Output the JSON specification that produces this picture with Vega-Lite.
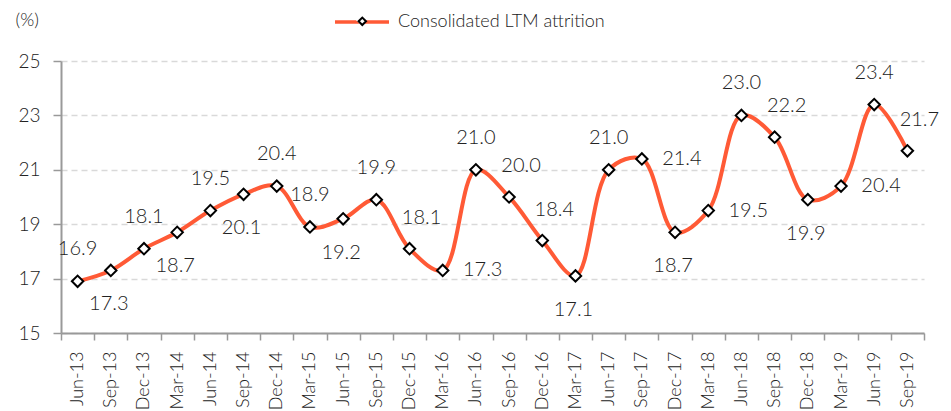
{
  "$schema": "https://vega.github.io/schema/vega-lite/v6.json",
  "width": 863,
  "height": 272,
  "autosize": {"type": "none"},
  "padding": {"left": 61, "top": 61, "right": 27, "bottom": 78},
  "config": {
    "view": {"stroke": null},
    "font": "Lato",
    "text": {"font": "Lato", "fontWeight": 300},
    "axis": {"labelFont": "Lato", "labelFontWeight": 300, "titleFont": "Lato", "titleFontWeight": 300}
  },
  "data": {
    "values": [
      {"q": "Jun-13", "v": 16.9},
      {"q": "Sep-13", "v": 17.3},
      {"q": "Dec-13", "v": 18.1},
      {"q": "Mar-14", "v": 18.7},
      {"q": "Jun-14", "v": 19.5},
      {"q": "Sep-14", "v": 20.1},
      {"q": "Dec-14", "v": 20.4},
      {"q": "Mar-15", "v": 18.9},
      {"q": "Jun-15", "v": 19.2},
      {"q": "Sep-15", "v": 19.9},
      {"q": "Dec-15", "v": 18.1},
      {"q": "Mar-16", "v": 17.3},
      {"q": "Jun-16", "v": 21.0},
      {"q": "Sep-16", "v": 20.0},
      {"q": "Dec-16", "v": 18.4},
      {"q": "Mar-17", "v": 17.1},
      {"q": "Jun-17", "v": 21.0},
      {"q": "Sep-17", "v": 21.4},
      {"q": "Dec-17", "v": 18.7},
      {"q": "Mar-18", "v": 19.5},
      {"q": "Jun-18", "v": 23.0},
      {"q": "Sep-18", "v": 22.2},
      {"q": "Dec-18", "v": 19.9},
      {"q": "Mar-19", "v": 20.4},
      {"q": "Jun-19", "v": 23.4},
      {"q": "Sep-19", "v": 21.7}
    ]
  },
  "encoding": {
    "x": {
      "field": "q", "type": "ordinal", "sort": null,
      "scale": {"type": "band", "paddingInner": 0, "paddingOuter": 0},
      "axis": {
        "title": null, "labelAngle": -90, "labelFontSize": 18, "labelColor": "#222222",
        "tickBand": "extent", "tickSize": 7, "tickColor": "#999999", "tickWidth": 1.5,
        "domainColor": "#999999", "domainWidth": 2, "labelPadding": 11, "grid": false
      }
    },
    "y": {
      "field": "v", "type": "quantitative",
      "scale": {"domain": [15, 25], "nice": false, "zero": false},
      "axis": {
        "values": [15, 17, 19, 21, 23, 25],
        "title": "(%)", "titleAngle": 0, "titleX": -46, "titleY": -41, "titleAlign": "left",
        "titleBaseline": "middle", "titleFontSize": 18, "titleColor": "#222222",
        "labelFontSize": 19, "labelColor": "#222222", "labelPadding": 13,
        "tickSize": 8, "tickColor": "#999999", "tickWidth": 1.5,
        "domainColor": "#999999", "domainWidth": 2,
        "grid": true, "gridColor": "#d9d9d9", "gridDash": [6, 4], "gridWidth": 1.5
      }
    }
  },
  "layer": [
    {
      "mark": {"type": "line", "interpolate": "catmull-rom", "strokeWidth": 4},
      "encoding": {
        "color": {
          "datum": "Consolidated LTM attrition",
          "scale": {"range": ["#FF5A36"]},
          "legend": {
            "title": null, "orient": "none", "legendX": 272, "legendY": -68,
            "symbolType": "stroke", "symbolSize": 2916, "symbolStrokeWidth": 3.5,
            "labelFontSize": 18, "labelColor": "#222222", "labelFont": "Lato", "labelFontWeight": 300,
            "labelOffset": 7, "labelLimit": 0, "zindex": 0
          }
        }
      }
    },
    {
      "mark": {"type": "point", "shape": "diamond", "filled": true, "stroke": "black", "strokeWidth": 2, "size": 130, "opacity": 1},
      "encoding": {
        "shape": {
          "datum": "marker",
          "scale": {"range": ["diamond"]},
          "legend": {
            "title": null, "orient": "none", "legendX": 294.8, "legendY": -46.2,
            "symbolSize": 110, "symbolFillColor": "black", "symbolStrokeColor": "black", "symbolStrokeWidth": 0,
            "labelExpr": "''", "labelFontSize": 1, "zindex": 5,
            "encode": {"symbols": {"update": {"fill": {"value": "#000000"}, "fillOpacity": {"value": 1}, "opacity": {"value": 1}}}}
          }
        },
        "fill": {
          "datum": "inner",
          "scale": {"range": ["#ffffff"]},
          "legend": {
            "title": null, "orient": "none", "legendX": 296.3, "legendY": -44.7,
            "symbolType": "diamond", "symbolSize": 56, "symbolFillColor": "white", "symbolStrokeColor": "black", "symbolStrokeWidth": 2,
            "labelExpr": "''", "labelFontSize": 1, "zindex": 6,
            "encode": {"symbols": {"update": {"fill": {"value": "#ffffff"}, "fillOpacity": {"value": 1}, "opacity": {"value": 1}}}}
          }
        }
      }
    },
    {
      "transform": [{"filter": {"field": "q", "oneOf": ["Jun-13", "Dec-13", "Jun-14", "Dec-14", "Mar-15", "Sep-15", "Jun-16", "Jun-17", "Jun-18", "Jun-19"]}}],
      "mark": {"type": "text", "dy": -32, "fontSize": 20, "color": "#222222"},
      "encoding": {"text": {"field": "v", "type": "quantitative", "format": ".1f"}}
    },
    {
      "transform": [{"filter": {"field": "q", "oneOf": ["Dec-15", "Sep-16", "Dec-16", "Sep-18", "Sep-19"]}}],
      "mark": {"type": "text", "dy": -31, "dx": 12, "fontSize": 20, "color": "#222222"},
      "encoding": {"text": {"field": "v", "type": "quantitative", "format": ".1f"}}
    },
    {
      "transform": [{"filter": {"field": "q", "oneOf": ["Sep-13", "Mar-14", "Sep-14", "Jun-15", "Mar-17", "Dec-17", "Dec-18"]}}],
      "mark": {"type": "text", "dy": 34, "dx": -2, "fontSize": 20, "color": "#222222"},
      "encoding": {"text": {"field": "v", "type": "quantitative", "format": ".1f"}}
    },
    {
      "transform": [{"filter": {"field": "q", "oneOf": ["Mar-16", "Sep-17", "Mar-18", "Mar-19"]}}],
      "mark": {"type": "text", "dy": 0, "dx": 40, "fontSize": 20, "color": "#222222"},
      "encoding": {"text": {"field": "v", "type": "quantitative", "format": ".1f"}}
    }
  ]
}
